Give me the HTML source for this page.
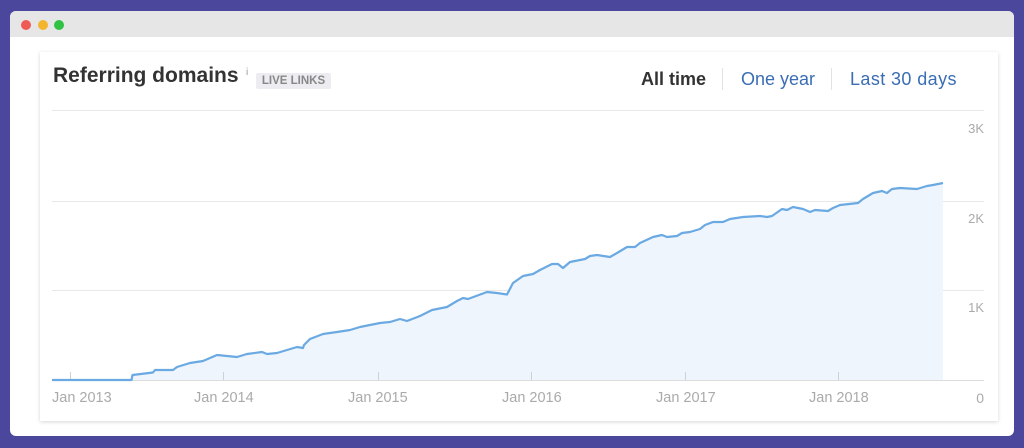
<!DOCTYPE html>
<html><head><meta charset="utf-8"><style>
html,body{margin:0;padding:0;}
body{width:1024px;height:448px;background:#4a479c;position:relative;overflow:hidden;font-family:"Liberation Sans",Arial,sans-serif;}
.win{position:absolute;left:10px;top:11px;width:1004px;height:425px;background:#fff;border-radius:6px;overflow:hidden;}
.bar{position:absolute;left:0;top:0;width:100%;height:26px;background:#e6e6e6;}
.dot{position:absolute;top:9px;width:10px;height:10px;border-radius:50%;}
.card{position:absolute;left:40px;top:52px;width:958px;height:369px;background:#fff;box-shadow:0 1px 4px rgba(0,0,0,0.16);}
.title{position:absolute;left:53px;top:64px;font-size:21px;font-weight:bold;color:#333;white-space:nowrap;}
.info{position:absolute;left:246px;top:67px;font-size:10px;color:#999;}
.badge{position:absolute;left:256px;top:73px;width:75px;height:16px;background:#ececf1;border-radius:2px;color:#888;font-size:11.5px;font-weight:bold;line-height:16px;text-align:center;}
.tab{position:absolute;top:69px;font-size:18px;white-space:nowrap;}
.sep{position:absolute;top:68px;width:1px;height:22px;background:#e2e2e2;}
.yl{position:absolute;right:40px;font-size:13px;color:#aaa;}
.xl{position:absolute;top:390px;font-size:14.5px;color:#aaa;white-space:nowrap;}
</style></head><body>
<div class="win">
  <div class="bar"></div>
  <div class="dot" style="left:11px;background:#f05a55;"></div>
  <div class="dot" style="left:28px;background:#f4b52e;"></div>
  <div class="dot" style="left:44px;background:#2fc243;"></div>
</div>
<div class="card"></div>
<div class="title">Referring domains</div>
<div class="info">i</div>
<div class="badge">LIVE LINKS</div>
<div class="tab" style="left:641px;color:#333;font-weight:bold;">All time</div>
<div class="sep" style="left:722px;"></div>
<div class="tab" style="left:741px;color:#3a6db3;">One year</div>
<div class="sep" style="left:831px;"></div>
<div class="tab" style="left:850px;color:#3a6db3;letter-spacing:0.4px;">Last 30 days</div>

<svg style="position:absolute;left:0;top:0;" width="1024" height="448" viewBox="0 0 1024 448">
  <line x1="52" y1="110.5" x2="984" y2="110.5" stroke="#e8e8e8" stroke-width="1"/>
  <line x1="52" y1="201.5" x2="984" y2="201.5" stroke="#e8e8e8" stroke-width="1"/>
  <line x1="52" y1="290.5" x2="984" y2="290.5" stroke="#e8e8e8" stroke-width="1"/>
  <polygon fill="#eff5fd" points="52,381 52,380 131.5,380 132.5,375 153,372.5 155,370 173,370 177,367 190,363 203,361 217,355 237,357 247,354 262,352 267,354 277,353 287,350 297,347 303,348 304,345 310,339 323,334 337,332 350,330 360,327 380,323 390,322 400,319 407,321 420,316 432,310 447,307 457,301 463,298 468,299 487,292 497,293 507,294.5 513,283 523,276 533,274 540,270 552,264 558,264 563,268 570,262 585,259 590,256 597,255 610,257 617,253 627,247 635,247 640,243 653,237 662,235 667,237 677,236 682,233 690,232 700,229 705,225 713,222 723,222 730,219 743,217 760,216 767,217 772,216 782,209 787,210 793,207 803,209 810,212 815,210 828,211 833,208 840,205 858,203 863,199 873,193 882,191 887,193 892,189 900,188 917,189 927,186 933,185 943,183 943,381"/>
  <line x1="52" y1="380.5" x2="984" y2="380.5" stroke="#dcdcdc" stroke-width="1"/>
  <g stroke="#d0d0d0" stroke-width="1">
    <line x1="70.5" y1="372" x2="70.5" y2="380"/>
    <line x1="223.5" y1="372" x2="223.5" y2="380"/>
    <line x1="378.5" y1="372" x2="378.5" y2="380"/>
    <line x1="531.5" y1="372" x2="531.5" y2="380"/>
    <line x1="685.5" y1="372" x2="685.5" y2="380"/>
    <line x1="838.5" y1="372" x2="838.5" y2="380"/>
  </g>
  <polyline fill="none" stroke="#6aa9e2" stroke-width="2.2" stroke-linejoin="round" points="52,380 131.5,380 132.5,375 153,372.5 155,370 173,370 177,367 190,363 203,361 217,355 237,357 247,354 262,352 267,354 277,353 287,350 297,347 303,348 304,345 310,339 323,334 337,332 350,330 360,327 380,323 390,322 400,319 407,321 420,316 432,310 447,307 457,301 463,298 468,299 487,292 497,293 507,294.5 513,283 523,276 533,274 540,270 552,264 558,264 563,268 570,262 585,259 590,256 597,255 610,257 617,253 627,247 635,247 640,243 653,237 662,235 667,237 677,236 682,233 690,232 700,229 705,225 713,222 723,222 730,219 743,217 760,216 767,217 772,216 782,209 787,210 793,207 803,209 810,212 815,210 828,211 833,208 840,205 858,203 863,199 873,193 882,191 887,193 892,189 900,188 917,189 927,186 933,185 943,183"/>
</svg>

<div class="yl" style="top:121px;">3K</div>
<div class="yl" style="top:211px;">2K</div>
<div class="yl" style="top:300px;">1K</div>
<div class="yl" style="top:390px;font-size:14px;">0</div>

<div class="xl" style="left:52px;">Jan 2013</div>
<div class="xl" style="left:194px;">Jan 2014</div>
<div class="xl" style="left:348px;">Jan 2015</div>
<div class="xl" style="left:502px;">Jan 2016</div>
<div class="xl" style="left:656px;">Jan 2017</div>
<div class="xl" style="left:809px;">Jan 2018</div>
</body></html>
